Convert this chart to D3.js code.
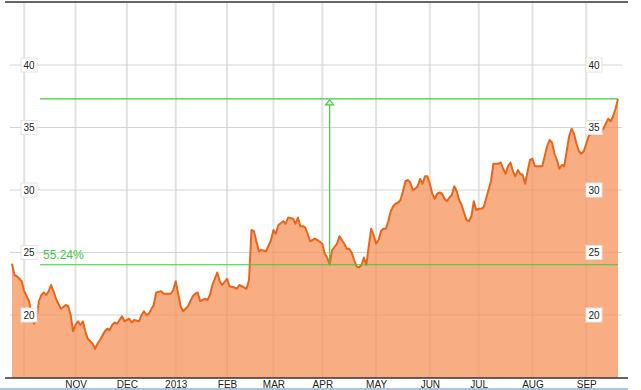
<!DOCTYPE html>
<html>
<head>
<meta charset="utf-8">
<script src="https://cdn.jsdelivr.net/npm/d3@7/dist/d3.min.js"></script>
<style>
    body { margin: 0; background: #fff; }
    text { font-family: Arial, "Liberation Sans", sans-serif; }
</style>
</head>
<body>
<svg class="svgMain" width="641" height="390"></svg>
<script>
// Price chart, one year of trading days (Sep 24 2012 .. Sep 20 2013).

// trading day number (0 = Sep 24 2012) and closing price
var tradeDay = [0, 1, 2, 4, 5, 7, 8, 9, 10, 11, 12, 13, 14, 15, 16, 17, 18, 19, 20, 22, 23, 24, 25, 26, 27, 28, 29, 30,
    31, 33, 34, 35, 36, 38, 39, 40, 41, 42, 43, 45, 46, 48, 49, 50, 52, 53, 54, 55, 56, 58, 59, 61, 62, 65, 66, 67,
    68, 69, 70, 72, 74, 75, 76, 77, 79, 80, 81, 82, 84, 85, 86, 88, 89, 91, 92, 93, 95, 96, 97, 98, 99, 100, 101, 102,
    104, 106, 107, 108, 109, 111, 112, 113, 115, 116, 117, 118, 119, 120, 121, 122, 124, 125, 127, 128, 129, 130, 131,
    133, 134, 135, 136, 137, 138, 139, 140, 141, 142, 143, 144, 145, 146, 147, 148, 149, 150, 151, 152, 153, 154, 155,
    156, 157, 158, 159, 160, 161, 162, 163, 164, 165, 166, 167, 168, 169, 170, 171, 172, 173, 174, 175, 176, 177, 178,
    179, 180, 181, 182, 183, 184, 185, 186, 187, 188, 189, 190, 191, 192, 193, 194, 195, 196, 197, 198, 199, 200, 201,
    202, 203, 204, 205, 206, 207, 208, 209, 210, 211, 212, 213, 214, 216, 217, 218, 219, 220, 221, 222, 223, 224, 225,
    226, 227, 228, 229, 230, 231, 232, 233, 234, 235, 236, 237, 238, 240, 241, 242, 243, 244, 245, 246, 247, 248];
var closePrice = [24.1, 23.2, 23.1, 22.7, 21.9, 21.1, 20.0, 19.3, 19.6, 21.1, 21.6, 21.8, 21.6, 21.9, 22.4, 21.9, 21.3,
    20.9, 20.5, 20.8, 20.7, 20.0, 18.7, 19.2, 19.5, 19.2, 19.5, 18.7, 18.1, 17.7, 17.3, 17.7, 18.0, 18.7, 18.9, 18.8,
    19.2, 19.4, 19.3, 19.9, 19.5, 19.7, 19.4, 19.6, 19.5, 20.0, 20.3, 20.0, 20.1, 20.8, 21.8, 21.9, 21.7, 21.7, 22.0,
    22.7, 21.7, 20.7, 20.3, 20.7, 21.5, 21.7, 21.8, 21.1, 21.3, 21.2, 21.6, 22.4, 23.4, 22.7, 22.4, 22.9, 22.3, 22.2,
    22.1, 22.4, 22.2, 22.1, 22.8, 26.8, 26.7, 25.9, 25.1, 25.2, 25.1, 26.0, 26.8, 26.5, 27.2, 27.5, 27.3, 27.8, 27.7,
    27.3, 27.8, 27.1, 27.1, 27.0, 26.5, 25.9, 26.1, 26.0, 25.7, 24.9, 24.6, 24.02, 25.2, 25.7, 26.3, 26.0, 25.7, 25.3,
    25.3, 25.0, 24.4, 23.9, 23.8, 24.0, 24.6, 24.0, 25.5, 26.9, 26.4, 25.7, 26.0, 26.7, 26.9, 26.9, 27.5, 28.3, 28.7,
    28.9, 29.0, 29.2, 29.9, 30.7, 30.8, 30.6, 30.0, 30.1, 30.3, 30.9, 30.5, 31.1, 31.1, 30.5, 29.7, 29.3, 29.7, 29.8,
    29.7, 29.3, 29.1, 29.4, 29.6, 30.3, 29.9, 29.2, 28.8, 28.2, 27.6, 27.5, 27.9, 29.1, 28.4, 28.5, 28.5, 28.6, 29.3,
    30.0, 30.7, 32.1, 32.1, 32.1, 32.2, 31.7, 31.3, 31.9, 32.2, 31.5, 31.1, 31.6, 31.3, 31.2, 30.5, 31.5, 32.4, 32.5,
    31.9, 31.9, 31.9, 32.7, 33.5, 34.0, 33.8, 32.9, 32.4, 31.7, 32.0, 31.9, 33.1, 34.3, 34.9, 34.5, 33.7, 33.1, 32.9,
    33.1, 33.7, 34.3, 34.5, 34.7, 34.7, 34.7, 34.9, 35.3, 35.7, 35.5, 35.9, 36.5, 37.29];

// first trading day of each month
var monthStartDay = [5, 26, 47, 67, 88, 107, 127, 149, 171, 191, 213, 235];
var monthLabels = ["", "NOV", "DEC", "2013", "FEB", "MAR", "APR", "MAY", "JUN", "JUL", "AUG", "SEP"];
var yTicks = [20, 25, 30, 35, 40];

// gain annotation: from the April low to the last close
var gainFromDay = 130;
var gainLabel = "55.24%";

var svgMain, x, y;

function setupSVG () {
    svgMain = d3.select(".svgMain");
    x = d3.scaleLinear().domain([0, 248]).range([12, 618]);
    y = d3.scaleLinear().domain([15, 45]).range([377.5, 2.5]);
}

function drawGrid () {
    // vertical month lines
    svgMain.append("g").selectAll("line")
        .data(monthStartDay).join("line")
        .attr("x1", d => x(d)).attr("x2", d => x(d))
        .attr("y1", 3).attr("y2", 378)
        .attr("stroke", "#e2e2e2").attr("stroke-width", 2);
    // horizontal price lines
    svgMain.append("g").selectAll("line")
        .data(yTicks).join("line")
        .attr("x1", 10).attr("x2", 622)
        .attr("y1", d => y(d)).attr("y2", d => y(d))
        .attr("stroke", "#d4d4d4").attr("stroke-width", 1);
}

function drawPrice () {
    var pts = tradeDay.map((d, i) => [d, closePrice[i]]);
    var area = d3.area().x(d => x(d[0])).y0(378).y1(d => y(d[1]));
    var line = d3.line().x(d => x(d[0])).y(d => y(d[1]));
    svgMain.append("path").datum(pts)
        .attr("d", area)
        .attr("fill", "#f7925a").attr("fill-opacity", 0.75);
    svgMain.append("path").datum(pts)
        .attr("d", line)
        .attr("fill", "none")
        .attr("stroke", "#e8661c").attr("stroke-width", 2)
        .attr("stroke-linejoin", "round");
}

function drawFrame () {
    svgMain.append("line")
        .attr("x1", 5).attr("x2", 628).attr("y1", 2).attr("y2", 2)
        .attr("stroke", "#333").attr("stroke-width", 1.5);
    svgMain.append("line")
        .attr("x1", 5).attr("x2", 628).attr("y1", 378).attr("y2", 378)
        .attr("stroke", "#333").attr("stroke-width", 1.5);
    svgMain.append("line")
        .attr("x1", 0).attr("x2", 628).attr("y1", 389).attr("y2", 389)
        .attr("stroke", "#8fb1d6").attr("stroke-width", 1.5);

    // month labels
    var xAxis = d3.axisBottom(x)
        .tickValues(monthStartDay)
        .tickFormat((d, i) => monthLabels[i])
        .tickSize(0).tickPadding(3);
    var g = svgMain.append("g").attr("transform", "translate(0,378)").call(xAxis);
    g.select(".domain").remove();
    g.selectAll("text").attr("font-size", 10).attr("fill", "#222")
        .attr("font-family", "Arial, 'Liberation Sans', sans-serif");

    // price labels, both sides
    [29, 594].forEach(function (cx) {
        var lab = svgMain.append("g").selectAll("g")
            .data(yTicks).join("g")
            .attr("transform", d => "translate(" + cx + "," + y(d) + ")");
        lab.append("rect")
            .attr("x", -8).attr("y", -7).attr("width", 16).attr("height", 14)
            .attr("fill", "#fff").attr("stroke", "#e4e4e4");
        lab.append("text")
            .attr("text-anchor", "middle").attr("dy", "0.35em")
            .attr("font-size", 10).attr("fill", "#222")
            .text(d => d);
    });
}

function drawGain () {
    var green = "#3ec93e";
    var i0 = tradeDay.indexOf(gainFromDay);
    var lowV = closePrice[i0];
    var lastV = closePrice[closePrice.length - 1];
    var xEnd = x(tradeDay[tradeDay.length - 1]);
    [lowV, lastV].forEach(function (v) {
        svgMain.append("line")
            .attr("x1", 40).attr("x2", xEnd)
            .attr("y1", y(v)).attr("y2", y(v))
            .attr("stroke", green).attr("stroke-width", 1.2);
    });
    var ax = x(gainFromDay);
    svgMain.append("line")
        .attr("x1", ax).attr("x2", ax)
        .attr("y1", y(lowV)).attr("y2", y(lastV) + 5)
        .attr("stroke", green).attr("stroke-width", 1.2);
    svgMain.append("path")
        .attr("d", "M" + ax + "," + (y(lastV) + 1) + "L" + (ax - 4) + "," + (y(lastV) + 6) +
            "L" + (ax + 4) + "," + (y(lastV) + 6) + "Z")
        .attr("fill", "#fff").attr("stroke", green).attr("stroke-width", 1.2);
    svgMain.append("text")
        .attr("x", 43).attr("y", y(lowV) - 6)
        .attr("font-size", 12).attr("fill", green)
        .text(gainLabel);
}

setupSVG();
drawGrid();
drawPrice();
drawGain();
drawFrame();
</script>
</body>
</html>
